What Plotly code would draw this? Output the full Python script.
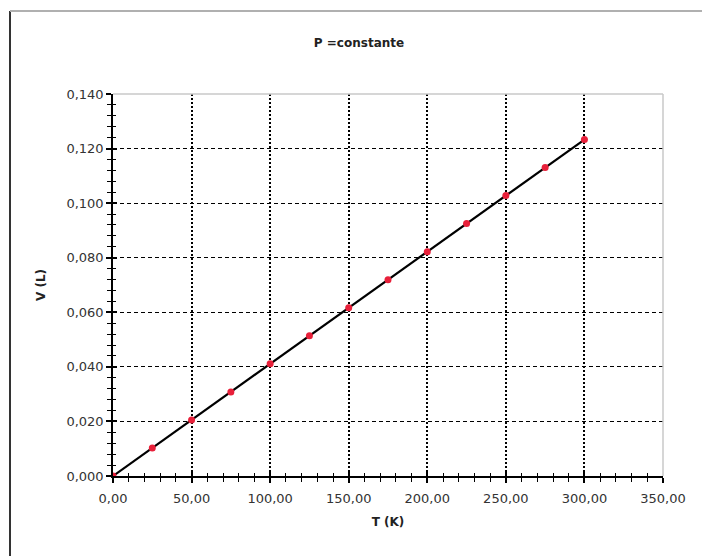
import plotly.graph_objects as go

T = [0, 25, 50, 75, 100, 125, 150, 175, 200, 225, 250, 275, 300]
V = [0.0, 0.0103, 0.0205, 0.0308, 0.0411, 0.0514, 0.0617, 0.0719, 0.0822, 0.0925, 0.1028, 0.1131, 0.1233]
x_ticks = [0, 50, 100, 150, 200, 250, 300, 350]
x_labels = ["0,00", "50,00", "100,00", "150,00", "200,00", "250,00", "300,00", "350,00"]
y_ticks = [0, 0.02, 0.04, 0.06, 0.08, 0.10, 0.12, 0.14]
y_labels = ["0,000", "0,020", "0,040", "0,060", "0,080", "0,100", "0,120", "0,140"]

W, H = 702, 556
L, R, Tm, B = 113, 39, 94, 80
pw, ph = W - L - R, H - Tm - B

def px(x):
    return (x - L) / pw

def py(y):
    return (H - B - y) / ph

FAM = "DejaVu Sans, Verdana, sans-serif"

fig = go.Figure()
fig.add_trace(go.Scatter(x=T, y=V, mode="lines", line=dict(color="black", width=2.2),
                         showlegend=False, hoverinfo="skip"))
fig.add_trace(go.Scatter(x=T, y=V, mode="markers",
                         marker=dict(color="#e8203a", size=7, symbol="circle"),
                         showlegend=False))
fig.add_trace(go.Scatter(x=[None], y=[None], xaxis="x2", yaxis="y2", showlegend=False,
                         hoverinfo="skip"))

common_axis = dict(zeroline=False, fixedrange=True)

fig.update_layout(
    width=W, height=H,
    margin=dict(l=L, r=R, t=Tm, b=B),
    paper_bgcolor="white", plot_bgcolor="white",
    font=dict(family=FAM, size=13, color="#333333"),
    title=dict(text="<b>P =constante</b>", x=359 / W, xanchor="center", y=1 - 43 / H, yanchor="middle",
               font=dict(family=FAM, size=12, color="#222222")),
    xaxis=dict(range=[0, 350], tickvals=x_ticks, ticktext=x_labels,
               showline=True, linecolor="black", linewidth=1.5,
               ticks="outside", ticklen=5, tickcolor="black", tickwidth=1.5,
               ticklabelstandoff=5,
               showgrid=True, gridcolor="black", griddash="2px,2px", gridwidth=1.5,
               minor=dict(dtick=10, ticks="outside", ticklen=4, tickcolor="black", tickwidth=1, showgrid=False),
               title=dict(text="<b>T (K)</b>", standoff=12, font=dict(family=FAM, size=12, color="#222222")),
               **common_axis),
    yaxis=dict(range=[0, 0.14], tickvals=y_ticks, ticktext=y_labels,
               showline=True, linecolor="black", linewidth=1.5,
               ticks="outside", ticklen=5, tickcolor="black", tickwidth=1.5,
               showgrid=True, gridcolor="black", griddash="4px,3px", gridwidth=1,
               minor=dict(dtick=0.004, ticks="outside", ticklen=4, tickcolor="black", tickwidth=1, showgrid=False),
               title=dict(text="<b>V (L)</b>", standoff=18, font=dict(family=FAM, size=12, color="#222222")),
               **common_axis),
    xaxis2=dict(range=[0, 350], overlaying="x", side="bottom", showticklabels=False,
                tickvals=x_ticks, ticks="inside", ticklen=4, tickcolor="black", tickwidth=1.5,
                minor=dict(dtick=10, ticks="inside", ticklen=3, tickcolor="black", tickwidth=1, showgrid=False),
                showgrid=False, showline=False, **common_axis),
    yaxis2=dict(range=[0, 0.14], overlaying="y", side="left", showticklabels=False,
                tickvals=y_ticks, ticks="inside", ticklen=4, tickcolor="black", tickwidth=1.5,
                minor=dict(dtick=0.004, ticks="inside", ticklen=3, tickcolor="black", tickwidth=1, showgrid=False),
                showgrid=False, showline=False, **common_axis),
    shapes=[
        dict(type="line", xref="paper", yref="paper", x0=0, x1=1, y0=1, y1=1,
             line=dict(color="#c8c8c8", width=1.5)),
        dict(type="line", xref="paper", yref="paper", x0=1, x1=1, y0=0, y1=1,
             line=dict(color="#c8c8c8", width=1.5)),
        dict(type="line", xref="paper", yref="paper", x0=px(10), x1=px(10), y0=py(11), y1=py(560),
             line=dict(color="#333333", width=2)),
        dict(type="line", xref="paper", yref="paper", x0=px(10), x1=px(705), y0=py(11), y1=py(11),
             line=dict(color="#b0b0b0", width=2)),
    ],
)

fig.write_html("out.html", config={"displayModeBar": False},
               post_script="document.body.style.margin='0';")
